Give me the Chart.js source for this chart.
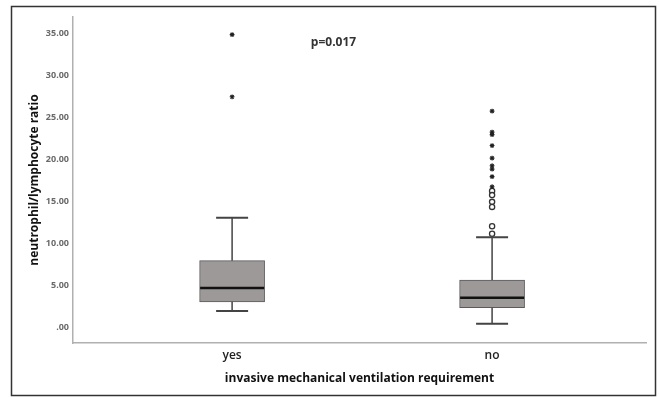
<!DOCTYPE html>
<html>
<head>
<meta charset="utf-8">
<script src="https://cdn.jsdelivr.net/npm/chart.js@4.4.1/dist/chart.umd.min.js"></script>
<style>
  html, body { margin: 0; padding: 0; background: #fff; }
  #wrap { width: 659px; height: 397px; }
</style>
</head>
<body>
<div id="wrap"><canvas id="box"></canvas></div>
<script>
// groups and box statistics
const groups = ["yes", "no"];
const positions = [1, 2];
const whiskerLow = [2.0, 0.5];
const q1 = [3.1, 2.4];
const median = [4.75, 3.6];
const q3 = [8.0, 5.7];
const whiskerHigh = [13.1, 10.8];

// extreme values (*) and outliers (o)
const extremeYes = [34.9, 27.5];
const extremeNo = [25.8, 23.3, 23.0, 21.7, 20.2, 19.3, 18.9, 18.0, 16.8];
const outlierNo = [16.3, 15.8, 15.0, 14.4, 12.1, 11.2];

const yTicks = [0, 5, 10, 15, 20, 25, 30, 35];
const yTickLabels = [".00", "5.00", "10.00", "15.00", "20.00", "25.00", "30.00", "35.00"];
const pValueText = "p=0.017";

const fontFamily = "'Open Sans', 'DejaVu Sans', sans-serif";

function pts(pos, values) {
  return values.map((v) => ({ x: pos, y: v }));
}

const boxPlugin = {
  id: "boxParts",
  beforeDraw(chart) {
    const ctx = chart.ctx;
    ctx.save();
    ctx.fillStyle = "#fff";
    ctx.fillRect(0, 0, chart.width, chart.height);
    ctx.strokeStyle = "#333";
    ctx.lineWidth = 1.5;
    ctx.strokeRect(11.5, 6.5, 644, 389);
    ctx.restore();
  },
  afterDatasetsDraw(chart) {
    const ctx = chart.ctx;
    const x = chart.scales.x;
    const y = chart.scales.y;
    ctx.save();
    positions.forEach((p, i) => {
      const cx = x.getPixelForValue(p);
      ctx.strokeStyle = "#444";
      ctx.lineWidth = 1.5;
      ctx.beginPath();
      ctx.moveTo(cx, y.getPixelForValue(q3[i]));
      ctx.lineTo(cx, y.getPixelForValue(whiskerHigh[i]));
      ctx.moveTo(cx, y.getPixelForValue(q1[i]));
      ctx.lineTo(cx, y.getPixelForValue(whiskerLow[i]));
      ctx.stroke();
      ctx.lineWidth = 2;
      ctx.beginPath();
      [whiskerHigh[i], whiskerLow[i]].forEach((v) => {
        const py = y.getPixelForValue(v);
        ctx.moveTo(cx - 16, py);
        ctx.lineTo(cx + 16, py);
      });
      ctx.stroke();
      ctx.strokeStyle = "#111";
      ctx.lineWidth = 2.5;
      ctx.beginPath();
      const my = y.getPixelForValue(median[i]);
      ctx.moveTo(cx - 32, my);
      ctx.lineTo(cx + 32, my);
      ctx.stroke();
    });
    ctx.fillStyle = "#333";
    ctx.font = "bold 12px " + fontFamily;
    ctx.textAlign = "center";
    ctx.textBaseline = "middle";
    ctx.fillText(pValueText, x.getPixelForValue(1.39), y.getPixelForValue(34.0));
    ctx.restore();
  },
};

new Chart(document.getElementById("box"), {
  data: {
    datasets: [
      {
        type: "bar",
        data: positions.map((p, i) => ({ x: p, y: [q1[i], q3[i]] })),
        backgroundColor: "#9e9999",
        borderColor: "#5a5a5a",
        borderWidth: 1,
        borderSkipped: false,
        barThickness: 65,
      },
      {
        type: "line",
        showLine: false,
        data: pts(1, extremeYes).concat(pts(2, extremeNo)),
        pointStyle: "star",
        pointRadius: 2.4,
        borderColor: "#222",
        borderWidth: 1.1,
      },
      {
        type: "line",
        showLine: false,
        data: pts(2, outlierNo),
        pointStyle: "circle",
        pointRadius: 2.6,
        backgroundColor: "#fff",
        borderColor: "#333",
        borderWidth: 1.3,
      },
    ],
  },
  options: {
    responsive: true,
    maintainAspectRatio: false,
    animation: false,
    layout: { padding: { left: 27, top: 17, right: 13, bottom: 10.8 } },
    plugins: { legend: { display: false }, tooltip: { enabled: false } },
    scales: {
      x: {
        type: "linear",
        min: 0.388,
        max: 2.592,
        offset: false,
        grid: { display: false, drawTicks: false, offset: false },
        border: { display: true, color: "#b0b0b0", width: 1.5 },
        afterBuildTicks: (s) => { s.ticks = positions.map((v) => ({ value: v })); },
        afterFit: (s) => { s.height = 43.2; },
        ticks: {
          padding: 5,
          color: "#222",
          font: { family: fontFamily, size: 12, weight: "600" },
          callback: (v) => groups[positions.indexOf(v)],
        },
        title: {
          display: true,
          text: "invasive mechanical ventilation requirement",
          color: "#111",
          font: { family: fontFamily, size: 12, weight: "bold" },
          padding: 0,
        },
      },
      y: {
        min: -1.8,
        max: 37,
        grid: { display: false, drawTicks: false },
        border: { display: true, color: "#b0b0b0", width: 1.5 },
        afterBuildTicks: (s) => { s.ticks = yTicks.map((v) => ({ value: v })); },
        afterFit: (s) => { s.width = 46; },
        ticks: {
          padding: 4,
          color: "#6a6a6a",
          font: { family: fontFamily, size: 9, weight: "bold" },
          callback: (v) => yTickLabels[yTicks.indexOf(v)],
        },
        title: {
          display: true,
          text: "neutrophil/lymphocyte ratio",
          color: "#111",
          font: { family: fontFamily, size: 12, weight: "bold" },
          padding: 0,
        },
      },
    },
  },
  plugins: [boxPlugin],
});
</script>
</body>
</html>
